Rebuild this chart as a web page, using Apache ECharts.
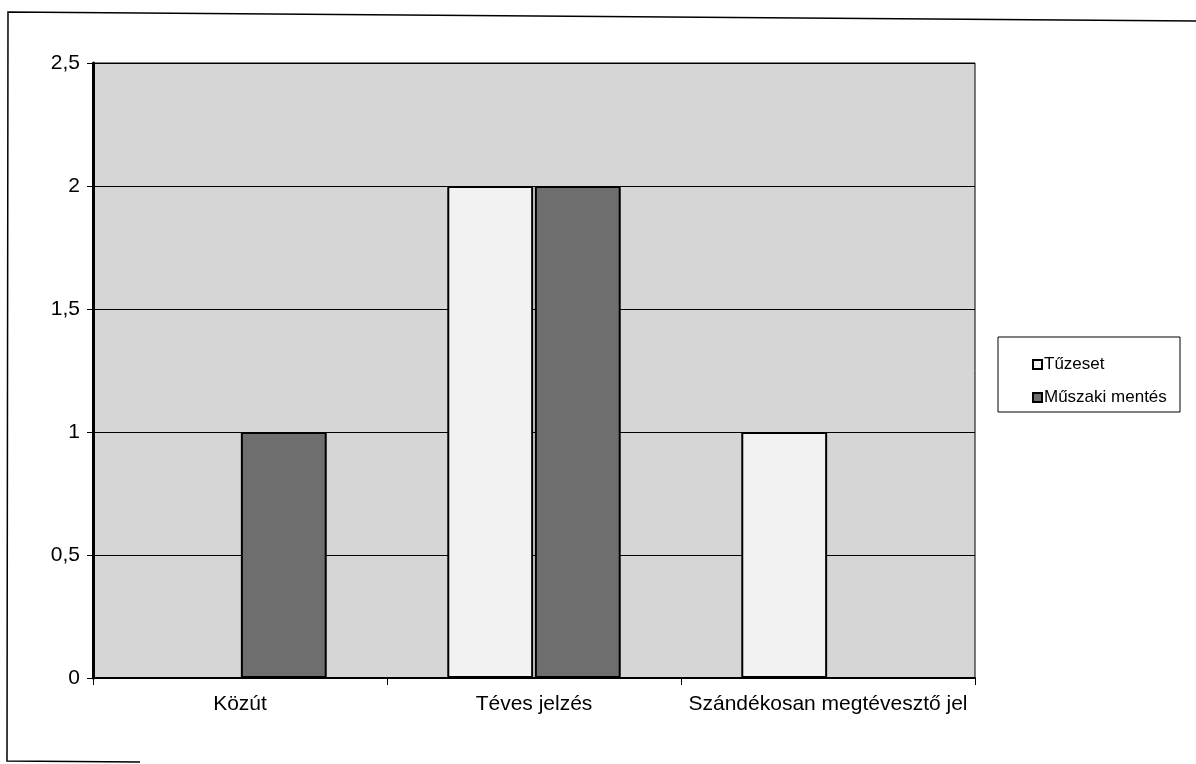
<!DOCTYPE html>
<html>
<head>
<meta charset="utf-8">
<script src="https://cdn.jsdelivr.net/npm/echarts@6/dist/echarts.min.js"></script>
<style>
html,body{margin:0;padding:0;background:#fff;}
#chart{width:1196px;height:764px;}
</style>
</head>
<body>
<div id="chart"></div>
<script>
const categories = ['Közút', 'Téves jelzés', 'Szándékosan megtévesztő jel'];
const seriesNames = ['Tűzeset', 'Műszaki mentés'];
const tuzeset = [0, 2, 1];
const muszaki = [1, 2, 0];
const yTicks = { min: 0, max: 2.5, interval: 0.5 };

const chart = echarts.init(document.getElementById('chart'), null, { renderer: 'canvas' });
const font = '"Liberation Sans", Arial, sans-serif';

chart.setOption({
  backgroundColor: '#ffffff',
  animation: false,
  grid: { left: 93, right: 221, top: 63, bottom: 86, show: true, backgroundColor: '#d6d6d6', borderColor: '#000', borderWidth: 1 },
  legend: {
    orient: 'vertical',
    left: 1027,
    top: 351,
    itemWidth: 9,
    itemHeight: 9,
    itemGap: 16,
    icon: 'rect',
    textStyle: { fontFamily: font, fontSize: 17, color: '#000', padding: [0, 0, 0, -3] },
    data: seriesNames
  },
  xAxis: {
    type: 'category',
    data: categories,
    axisLine: { lineStyle: { color: '#000', width: 2 } },
    axisTick: { show: true, inside: false, length: 7, lineStyle: { color: '#000' } },
    axisLabel: { interval: 0, fontFamily: font, fontSize: 21, color: '#000', margin: 16, hideOverlap: false },
    splitLine: { show: false }
  },
  yAxis: {
    type: 'value',
    min: yTicks.min,
    max: yTicks.max,
    interval: yTicks.interval,
    axisLine: { show: true, lineStyle: { color: '#000', width: 3 } },
    axisTick: { show: true, length: 6, lineStyle: { color: '#000' } },
    axisLabel: {
      fontFamily: font, fontSize: 21, color: '#000', margin: 13,
      formatter: v => String(v).replace('.', ',')
    },
    splitLine: { show: true, lineStyle: { color: '#000', width: 1 } }
  },
  series: [
    {
      name: seriesNames[0], type: 'bar', data: tuzeset,
      barGap: '2%', barCategoryGap: '41%',
      itemStyle: { color: '#f2f2f2', borderColor: '#000', borderWidth: 2 }
    },
    {
      name: seriesNames[1], type: 'bar', data: muszaki,
      itemStyle: { color: '#6e6e6e', borderColor: '#000', borderWidth: 2 }
    }
  ],
  graphic: [
    { type: 'rect', shape: { x: 998, y: 337, width: 182, height: 75 }, style: { fill: 'none', stroke: '#000', lineWidth: 1 }, z: 10 },
    { type: 'polyline', shape: { points: [[1196, 21], [8, 12], [7, 761], [140, 762]] }, style: { fill: 'none', stroke: '#000', lineWidth: 1.5 }, z: 10 }
  ]
});
</script>
</body>
</html>
